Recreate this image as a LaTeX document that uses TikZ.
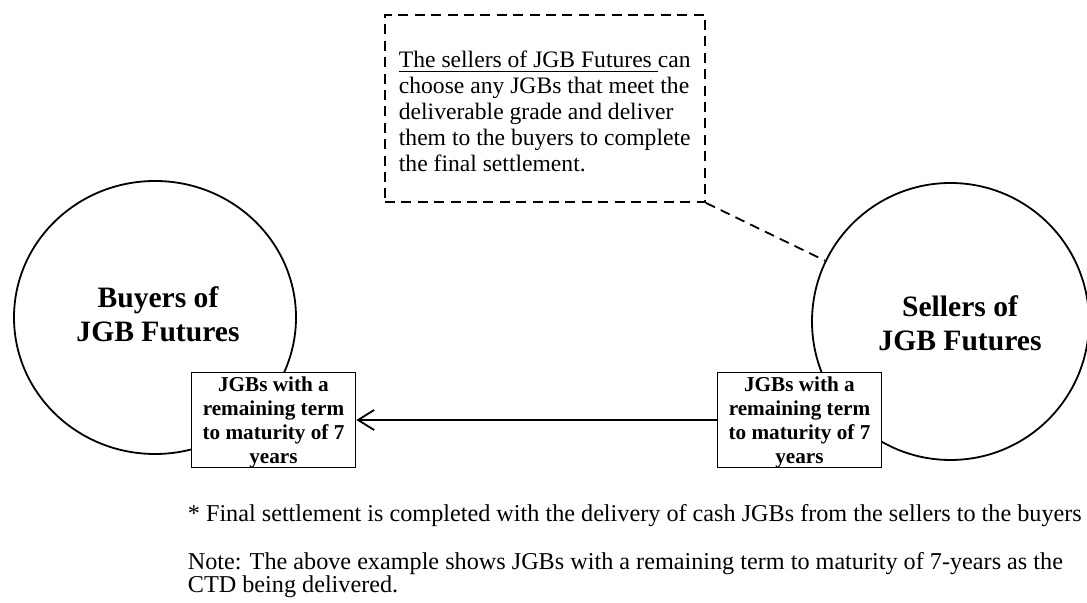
\documentclass[tikz,border=0pt]{standalone}
\usepackage{fontspec}
\setmainfont{Liberation Serif}
\usetikzlibrary{shapes.geometric, arrows.meta}

\begin{document}
\begin{tikzpicture}[x=0.5pt, y=0.5pt, line width=0.9pt,
  party/.style={draw, ellipse, inner sep=0pt},
  partytxt/.style={font=\fontsize{14.8}{17}\selectfont\bfseries, align=flush center, inner sep=0pt},
  bondbox/.style={draw, rectangle, minimum width=82pt, minimum height=47.5pt, inner sep=0pt},
  bondtxt/.style={font=\fontsize{10.6}{12}\selectfont\bfseries, text width=82pt, align=flush center, inner sep=0pt, anchor=base},
  notebox/.style={draw, rectangle, dash pattern=on 5pt off 3.2pt, minimum width=160pt, minimum height=93.5pt},
  plaintxt/.style={font=\fontsize{12.1}{11.5}\selectfont, inner sep=0pt, anchor=base west, text width=480pt, align=flush left}]
  \useasboundingbox (0,0) rectangle (1087,603);
  \node[notebox] (note) at (545,494.5) {};
  \node[plaintxt, font=\fontsize{11.8}{13}\selectfont, text width=170pt] (notetxt) at (398,535)
    {\underline{The sellers of JGB Futures\ }can\\ choose any JGBs that meet the\\ deliverable grade and deliver\\ them to the buyers to complete\\ the final settlement.};
  \node[party, minimum width=141pt, minimum height=136.5pt] (buyers) at (155,285.5) {};
  \node[partytxt] (buyerstxt) at (158,289) {Buyers of\\JGB Futures};
  \node[party, minimum width=138.5pt, minimum height=138.5pt] (sellers) at (950.5,281.5) {};
  \node[partytxt] (sellerstxt) at (960,280) {Sellers of\\JGB Futures};
  \draw[dash pattern=on 5pt off 3.2pt] (note.south east) -- (sellers);
  \node[bondbox, fill=white] (lbox) at (273.5,183) {};
  \node[bondtxt] (lboxtxt) at (273.5,211) {JGBs with a\\ remaining term\\ to maturity of 7\\ years};
  \node[bondbox, fill=white] (rbox) at (799.5,183) {};
  \node[bondtxt] (rboxtxt) at (799.5,211) {JGBs with a\\ remaining term\\ to maturity of 7\\ years};
  \draw[-{Straight Barb[length=8pt, width=10pt]}] (rbox) -- (lbox);
  \node[plaintxt] (settle) at (187,81) {* Final settlement is completed with the delivery of cash JGBs from the sellers to the buyers};
  \node[plaintxt] (ctd) at (187,33) {Note: The above example shows JGBs with a remaining term to maturity of 7-years as the\\ CTD being delivered.};
\end{tikzpicture}
\end{document}
